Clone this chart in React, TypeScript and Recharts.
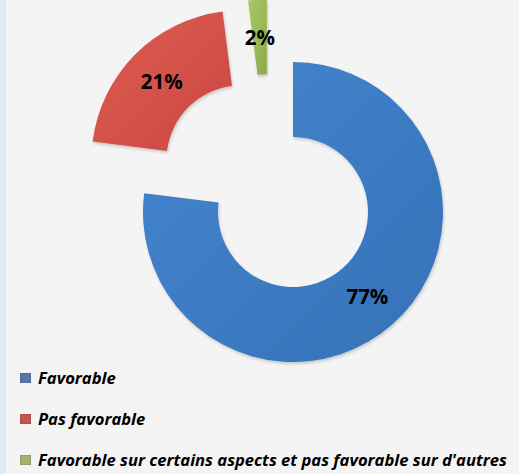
import React from 'react';
import { PieChart, Pie, Cell, Sector, Legend } from 'recharts';

const categories = ['Favorable', 'Pas favorable', "Favorable sur certains aspects et pas favorable sur d'autres"];
const shares = [77, 21, 2];

const sliceColors = [
  ['#4786cd', '#3d7cc4', '#3470b5'],
  ['#dc5b53', '#d5524a', '#c84840'],
  ['#a9c665', '#9cbb58', '#8aa84a'],
];
const legendColors = ['#5b78ab', '#c65651', '#a3b36f'];

const data = categories.map((name, i) => ({ name, value: shares[i] }));

const RADIAN = Math.PI / 180;
// how far each slice is pulled out, and a small tilt of that pull (degrees)
const EXPLODE = [
  { dist: 0, tilt: 0 },
  { dist: 73, tilt: 0 },
  { dist: 68, tilt: 19 },
];

const renderSlice = (props: any) => {
  const { cx, cy, innerRadius, outerRadius, startAngle, endAngle, midAngle, index, percent } = props;
  const ex = EXPLODE[index];
  const dir = (midAngle + ex.tilt) * RADIAN;
  const ox = cx + ex.dist * Math.cos(dir);
  const oy = cy - ex.dist * Math.sin(dir);
  const r = (innerRadius + outerRadius) / 2;
  const tx = ox + r * Math.cos(midAngle * RADIAN);
  const ty = oy - r * Math.sin(midAngle * RADIAN);
  return (
    <g>
      <Sector
        cx={ox}
        cy={oy}
        innerRadius={innerRadius}
        outerRadius={outerRadius}
        startAngle={startAngle}
        endAngle={endAngle}
        fill={`url(#slice${index})`}
        stroke="none"
        filter="url(#soft)"
      />
      <text
        x={tx}
        y={ty}
        textAnchor="middle"
        dominantBaseline="central"
        fontFamily="'Open Sans', sans-serif"
        fontWeight={700}
        fontSize={20.5}
        fill="#000"
      >
        {`${Math.round(percent * 100)}%`}
      </text>
    </g>
  );
};

const renderLegend = () => (
  <div style={{ fontFamily: "'Open Sans', sans-serif", fontStyle: 'italic', fontWeight: 700, fontSize: 16.6, color: '#000' }}>
    {categories.map((name, i) => (
      <div key={name} style={{ display: 'flex', alignItems: 'center', height: 41 }}>
        <span
          style={{
            display: 'inline-block',
            width: 11,
            height: 10,
            marginRight: 7,
            background: legendColors[i],
            boxShadow: 'inset 0 0 2px rgba(0,0,0,0.35)',
          }}
        />
        <span style={{ whiteSpace: 'nowrap' }}>{name}</span>
      </div>
    ))}
  </div>
);

export default function App() {
  return (
    <div
      style={{
        position: 'absolute',
        left: 0,
        top: 0,
        width: 519,
        height: 474,
        overflow: 'hidden',
        background: 'linear-gradient(to right, #dcedf8 0px, #dcedf8 6px, #f4f4f4 6px)',
      }}
    >
      <PieChart width={519} height={474} margin={{ top: 0, right: 0, bottom: 0, left: 0 }}>
        <defs>
          {sliceColors.map((c, i) => (
            <linearGradient key={i} id={`slice${i}`} x1="0" y1="0" x2="1" y2="1">
              <stop offset="0%" stopColor={c[0]} />
              <stop offset="50%" stopColor={c[1]} />
              <stop offset="100%" stopColor={c[2]} />
            </linearGradient>
          ))}
          <filter id="soft" x="-10%" y="-10%" width="120%" height="120%">
            <feDropShadow dx="1" dy="2" stdDeviation="1.5" floodColor="#000" floodOpacity="0.18" />
          </filter>
        </defs>
        <Pie
          data={data}
          dataKey="value"
          nameKey="name"
          cx={293}
          cy={212}
          innerRadius={75}
          outerRadius={150}
          startAngle={90}
          endAngle={-270}
          stroke="none"
          label={renderSlice}
          labelLine={false}
          isAnimationActive={false}
        >
          {data.map((d) => (
            <Cell key={d.name} fill="none" />
          ))}
        </Pie>
        <Legend content={renderLegend} wrapperStyle={{ left: 20, top: 357, width: 499 }} />
      </PieChart>
    </div>
  );
}
